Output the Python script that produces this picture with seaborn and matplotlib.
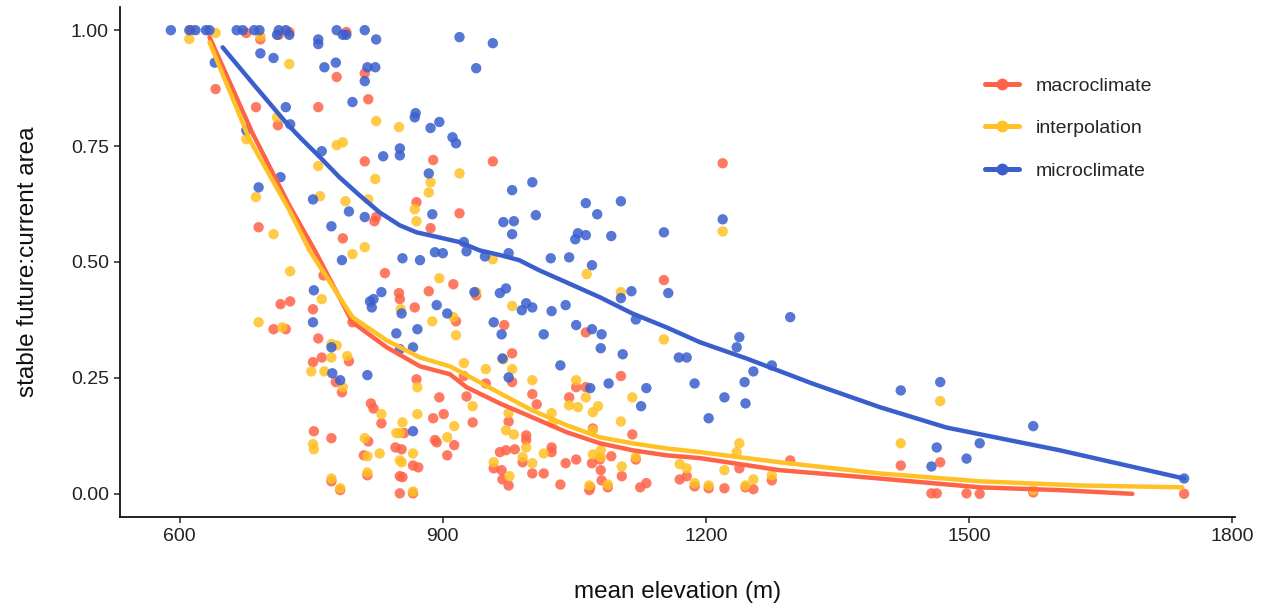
import matplotlib
matplotlib.use("Agg")
import matplotlib.pyplot as plt
from matplotlib.lines import Line2D
import pandas as pd
import seaborn as sns

# ---- site-level values: mean elevation (m) and stable future:current area ----
macro_elev = [613, 641, 676, 687, 690, 692, 707, 712, 713, 715, 721, 725, 726, 752, 752, 753,
              758, 758, 762, 764, 773, 773, 778, 779, 783, 785, 786, 790, 793, 797, 810, 811,
              811, 814, 815, 815, 818, 821, 822, 824, 830, 834, 846, 850, 851, 851, 851, 853,
              854, 856, 866, 866, 868, 870, 870, 872, 884, 886, 889, 889, 891, 893, 896, 901,
              905, 912, 913, 915, 919, 924, 927, 934, 938, 949, 957, 958, 965, 967, 968, 970,
              972, 975, 975, 979, 979, 982, 991, 995, 995, 1002, 1002, 1007, 1015, 1024, 1024,
              1034, 1040, 1044, 1052, 1052, 1063, 1063, 1067, 1068, 1070, 1071, 1079, 1080,
              1081, 1088, 1092, 1103, 1104, 1116, 1120, 1125, 1132, 1152, 1170, 1178, 1187,
              1203, 1219, 1221, 1238, 1245, 1254, 1275, 1296, 1422, 1457, 1463, 1467, 1497,
              1512, 1573, 1745]
macro_ratio = [1.00, 0.873, 0.994, 0.834, 0.575, 0.98, 0.355, 0.795, 0.99, 0.409, 0.355, 0.996,
               0.415, 0.398, 0.284, 0.135, 0.834, 0.335, 0.294, 0.471, 0.120, 0.027, 0.241,
               0.899, 0.008, 0.219, 0.551, 0.996, 0.286, 0.370, 0.083, 0.907, 0.717, 0.040,
               0.851, 0.113, 0.195, 0.184, 0.588, 0.597, 0.152, 0.476, 0.100, 0.433, 0.420,
               0.038, 0.001, 0.096, 0.036, 0.131, 0.061, 0.001, 0.402, 0.629, 0.247, 0.057,
               0.437, 0.573, 0.720, 0.163, 0.116, 0.111, 0.208, 0.172, 0.083, 0.452, 0.105,
               0.372, 0.605, 0.254, 0.210, 0.154, 0.428, 0.238, 0.717, 0.055, 0.090, 0.051,
               0.031, 0.364, 0.094, 0.156, 0.018, 0.303, 0.241, 0.096, 0.068, 0.126, 0.116,
               0.215, 0.044, 0.193, 0.044, 0.100, 0.090, 0.020, 0.066, 0.208, 0.230, 0.074,
               0.348, 0.230, 0.008, 0.014, 0.066, 0.141, 0.074, 0.051, 0.029, 0.014, 0.081,
               0.254, 0.038, 0.128, 0.074, 0.014, 0.023, 0.461, 0.031, 0.038, 0.016, 0.012,
               0.713, 0.012, 0.055, 0.014, 0.010, 0.029, 0.072, 0.061, 0.001, 0.001, 0.068,
               0.001, 0.0, 0.003, 0.0]

interp_elev = [611, 641, 676, 687, 690, 692, 707, 711, 717, 725, 726, 750, 752, 753, 758, 760,
               762, 765, 773, 773, 773, 779, 779, 783, 786, 786, 789, 791, 797, 811, 811, 814,
               814, 815, 823, 824, 828, 830, 847, 850, 851, 851, 852, 853, 854, 866, 866, 868,
               870, 871, 871, 884, 886, 888, 896, 905, 912, 913, 915, 919, 924, 934, 938, 949,
               957, 958, 969, 972, 975, 976, 979, 979, 981, 991, 995, 1002, 1002, 1015, 1024,
               1025, 1044, 1052, 1054, 1063, 1064, 1067, 1071, 1071, 1071, 1077, 1080, 1080,
               1088, 1103, 1103, 1104, 1116, 1120, 1152, 1170, 1178, 1187, 1203, 1219, 1221,
               1235, 1238, 1245, 1254, 1275, 1422, 1467, 1573]
interp_ratio = [0.981, 0.994, 0.765, 0.640, 0.370, 0.987, 0.560, 0.812, 0.359, 0.927, 0.480,
                0.264, 0.107, 0.096, 0.707, 0.642, 0.420, 0.264, 0.323, 0.294, 0.033, 0.752,
                0.320, 0.012, 0.758, 0.230, 0.631, 0.297, 0.517, 0.532, 0.120, 0.081, 0.046,
                0.635, 0.679, 0.804, 0.087, 0.172, 0.131, 0.791, 0.131, 0.072, 0.398, 0.068,
                0.154, 0.087, 0.005, 0.614, 0.588, 0.230, 0.172, 0.650, 0.672, 0.372, 0.465,
                0.122, 0.381, 0.146, 0.342, 0.691, 0.282, 0.189, 0.435, 0.269, 0.506, 0.068,
                0.290, 0.137, 0.174, 0.038, 0.405, 0.269, 0.128, 0.079, 0.100, 0.245, 0.066,
                0.087, 0.174, 0.152, 0.191, 0.245, 0.187, 0.208, 0.474, 0.018, 0.176, 0.137,
                0.085, 0.189, 0.094, 0.079, 0.020, 0.435, 0.156, 0.059, 0.208, 0.079, 0.333,
                0.064, 0.055, 0.023, 0.018, 0.566, 0.051, 0.090, 0.109, 0.018, 0.031, 0.040,
                0.109, 0.200, 0.008]

micro_elev = [590, 611, 618, 630, 634, 640, 665, 672, 676, 685, 690, 691, 692, 707, 711, 713,
              715, 721, 721, 725, 726, 752, 752, 753, 758, 758, 762, 765, 773, 773, 774, 778,
              779, 783, 785, 786, 790, 793, 797, 811, 811, 811, 814, 814, 817, 819, 821, 823,
              824, 830, 832, 847, 851, 851, 851, 853, 854, 866, 866, 868, 869, 871, 874, 884,
              886, 888, 891, 893, 896, 900, 905, 911, 915, 919, 924, 927, 936, 938, 948, 957,
              958, 965, 967, 968, 969, 972, 975, 975, 979, 979, 981, 990, 995, 1002, 1002,
              1006, 1015, 1023, 1024, 1034, 1040, 1044, 1051, 1052, 1054, 1063, 1063, 1068,
              1070, 1070, 1076, 1080, 1081, 1089, 1092, 1103, 1103, 1105, 1115, 1120, 1126,
              1132, 1152, 1157, 1169, 1178, 1187, 1203, 1219, 1221, 1235, 1238, 1244, 1245,
              1254, 1275, 1296, 1422, 1457, 1463, 1467, 1497, 1512, 1573, 1745]
micro_ratio = [1.00, 1.00, 1.00, 1.00, 1.00, 0.93, 1.00, 1.00, 0.784, 1.00, 0.661, 1.00, 0.95,
               0.94, 0.99, 1.00, 0.683, 1.00, 0.834, 0.99, 0.797, 0.635, 0.370, 0.439, 0.98,
               0.97, 0.739, 0.92, 0.577, 0.316, 0.260, 0.93, 1.00, 0.245, 0.504, 0.99, 0.99,
               0.609, 0.845, 1.00, 0.89, 0.597, 0.92, 0.256, 0.415, 0.402, 0.420, 0.92, 0.98,
               0.435, 0.728, 0.346, 0.745, 0.730, 0.312, 0.389, 0.508, 0.316, 0.135, 0.812,
               0.821, 0.355, 0.504, 0.691, 0.789, 0.603, 0.521, 0.407, 0.802, 0.519, 0.389,
               0.769, 0.756, 0.985, 0.543, 0.523, 0.435, 0.918, 0.512, 0.972, 0.370, 0.433,
               0.344, 0.292, 0.586, 0.443, 0.519, 0.251, 0.655, 0.560, 0.588, 0.396, 0.411,
               0.672, 0.402, 0.601, 0.344, 0.508, 0.394, 0.277, 0.407, 0.510, 0.549, 0.364,
               0.562, 0.627, 0.558, 0.228, 0.493, 0.355, 0.603, 0.314, 0.344, 0.238, 0.556,
               0.631, 0.422, 0.301, 0.437, 0.376, 0.189, 0.228, 0.564, 0.433, 0.294, 0.294,
               0.238, 0.163, 0.592, 0.208, 0.316, 0.338, 0.241, 0.195, 0.264, 0.277, 0.381,
               0.223, 0.059, 0.100, 0.241, 0.076, 0.109, 0.146, 0.033]

# ---- smoothed trends for each climate source ----
macro_fit_elev = [634, 683, 725, 754, 797, 836, 874, 908, 927, 965, 1002, 1041, 1079, 1116,
                  1155, 1193, 1284, 1398, 1512, 1603, 1686]
macro_fit = [0.985, 0.778, 0.622, 0.525, 0.370, 0.316, 0.275, 0.258, 0.230, 0.195, 0.165,
             0.133, 0.109, 0.094, 0.083, 0.077, 0.051, 0.033, 0.014, 0.008, 0.0]
interp_fit_elev = [634, 680, 725, 748, 797, 836, 874, 908, 927, 965, 1002, 1041, 1079, 1116,
                   1155, 1193, 1284, 1398, 1512, 1626, 1743]
interp_fit = [0.974, 0.763, 0.612, 0.525, 0.381, 0.331, 0.294, 0.275, 0.256, 0.217, 0.180,
              0.148, 0.122, 0.109, 0.098, 0.090, 0.068, 0.044, 0.027, 0.018, 0.014]
micro_fit_elev = [649, 683, 722, 737, 760, 782, 805, 828, 851, 870, 896, 919, 942, 965, 987,
                  1010, 1041, 1079, 1116, 1155, 1193, 1246, 1321, 1398, 1474, 1603, 1745]
micro_fit = [0.963, 0.886, 0.799, 0.769, 0.726, 0.683, 0.644, 0.607, 0.579, 0.564, 0.553,
             0.543, 0.525, 0.515, 0.504, 0.482, 0.456, 0.424, 0.389, 0.359, 0.327, 0.292,
             0.238, 0.187, 0.143, 0.094, 0.033]

sources = ["macroclimate", "interpolation", "microclimate"]
colors = {"macroclimate": "#FF6347", "interpolation": "#FFC125", "microclimate": "#3A5FCD"}

points = pd.concat([
    pd.DataFrame({"elev": macro_elev, "ratio": macro_ratio, "source": "macroclimate"}),
    pd.DataFrame({"elev": interp_elev, "ratio": interp_ratio, "source": "interpolation"}),
    pd.DataFrame({"elev": micro_elev, "ratio": micro_ratio, "source": "microclimate"}),
], ignore_index=True)

trends = pd.concat([
    pd.DataFrame({"elev": macro_fit_elev, "ratio": macro_fit, "source": "macroclimate"}),
    pd.DataFrame({"elev": interp_fit_elev, "ratio": interp_fit, "source": "interpolation"}),
    pd.DataFrame({"elev": micro_fit_elev, "ratio": micro_fit, "source": "microclimate"}),
], ignore_index=True)

sns.set_theme(style="ticks")
plt.rcParams["font.family"] = ["Liberation Sans", "DejaVu Sans"]

W, H = 1262, 609
fig = plt.figure(figsize=(W / 100, H / 100), dpi=100)
ax = fig.add_axes([120 / W, 1 - 517 / H, (1235 - 120) / W, (517 - 7) / H])

sns.scatterplot(data=points, x="elev", y="ratio", hue="source", hue_order=sources,
                palette=colors, s=56, alpha=0.85, linewidth=0, legend=False, ax=ax,
                zorder=2)
sns.lineplot(data=trends, x="elev", y="ratio", hue="source", hue_order=sources,
             palette=colors, linewidth=3.2, estimator=None, sort=True, legend=False,
             ax=ax, zorder=3)

ax.set_xlim(532, 1803)
ax.set_ylim(-0.05, 1.05)
ax.set_xticks([600, 900, 1200, 1500, 1800])
ax.set_yticks([0, 0.25, 0.5, 0.75, 1.0])
ax.set_yticklabels(["0.00", "0.25", "0.50", "0.75", "1.00"])

for side in ["top", "right"]:
    ax.spines[side].set_visible(False)
for side in ["left", "bottom"]:
    ax.spines[side].set_linewidth(1.3)
    ax.spines[side].set_color("#111111")
ax.tick_params(axis="both", length=4, width=1.2, color="#333333", labelsize=14,
               labelcolor="#222222", pad=4)

ax.set_xlabel("mean elevation (m)", fontsize=17.5, color="#111111", va="center")
ax.set_ylabel("stable future:current area", fontsize=17.5, color="#111111", va="center")
ax.xaxis.set_label_coords(0.5, (517 - 592) / 510)
ax.yaxis.set_label_coords((28 - 120) / 1115, 0.5)

handles = [Line2D([0], [0], color=colors[s], lw=3.6, marker="o", markersize=7.5)
           for s in sources]
ax.legend(handles, sources, loc="upper left", bbox_to_anchor=(985 / W, 1 - 77 / H),
          bbox_transform=fig.transFigure, frameon=False, fontsize=14,
          handlelength=1.75, handletextpad=0.85, labelspacing=1.28, borderpad=0,
          borderaxespad=0)

fig.savefig("out.png", dpi=100)
